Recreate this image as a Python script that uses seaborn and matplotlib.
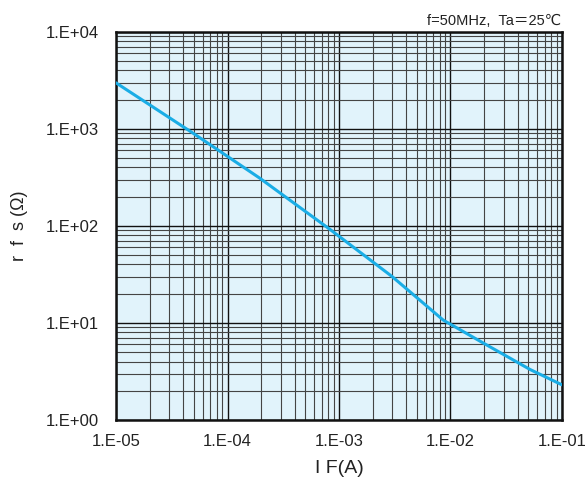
import matplotlib
matplotlib.use("Agg")
import matplotlib.pyplot as plt
import matplotlib.ticker as mticker
import seaborn as sns
import pandas as pd

# data (forward current IF [A], resistance rfs [ohm])
if_amp = [1.0e-05, 4.9e-05, 1.95e-04, 8.3e-04, 3.0e-03, 8.6e-03, 1.97e-02, 5.2e-02, 1.0e-01]
rfs_ohm = [2980, 904, 310, 92, 30.0, 10.7, 6.2, 3.3, 2.3]
x_ticks = [1e-5, 1e-4, 1e-3, 1e-2, 1e-1]
x_labels = ["1.E-05", "1.E-04", "1.E-03", "1.E-02", "1.E-01"]
y_ticks = [1e0, 1e1, 1e2, 1e3, 1e4]
y_labels = ["1.E+00", "1.E+01", "1.E+02", "1.E+03", "1.E+04"]

sns.set_style("white")
plt.rcParams['font.family'] = ['Liberation Sans', 'DejaVu Sans']

df = pd.DataFrame({"IF": if_amp, "rfs": rfs_ohm})

fig = plt.figure(figsize=(5.86, 4.9), dpi=100)
ax = fig.add_axes([0.198, 0.143, 0.761, 0.792])
ax.set_facecolor('#E1F3FB')

ax.set_xscale('log')
ax.set_yscale('log')
ax.set_xlim(1e-5, 1e-1)
ax.set_ylim(1e0, 1e4)

ax.xaxis.set_minor_locator(mticker.LogLocator(base=10, subs=range(2, 10), numticks=20))
ax.yaxis.set_minor_locator(mticker.LogLocator(base=10, subs=range(2, 10), numticks=20))
ax.grid(True, which='minor', color='#444444', linewidth=0.8, zorder=1)
ax.grid(True, which='major', color='#111111', linewidth=1.0, zorder=1)
ax.set_axisbelow(True)

sns.lineplot(data=df, x="IF", y="rfs", ax=ax, color='#1AADE6', linewidth=2.2, zorder=3)

ax.set_xticks(x_ticks)
ax.set_xticklabels(x_labels)
ax.set_yticks(y_ticks)
ax.set_yticklabels(y_labels)
ax.tick_params(axis='both', which='major', labelsize=12, colors='#222222', length=0, pad=10)
ax.tick_params(axis='both', which='minor', length=0)
ax.tick_params(axis='y', pad=12)

for s in ax.spines.values():
    s.set_color('#111111')
    s.set_linewidth(1.8)
    s.set_visible(True)

ax.set_xlabel("I F(A)", fontsize=14, color='#222222', labelpad=8)
ax.set_ylabel("r  f  s (Ω)", fontsize=13, color='#222222', labelpad=13)

fig.text(0.957, 0.943, "f=50MHz,  Ta＝25℃", ha='right', va='bottom', fontsize=10.5,
         color='#222222', family=['Liberation Sans', 'DejaVu Sans', 'Noto Sans CJK JP'])

fig.savefig("out.png", dpi=100, facecolor='white')
